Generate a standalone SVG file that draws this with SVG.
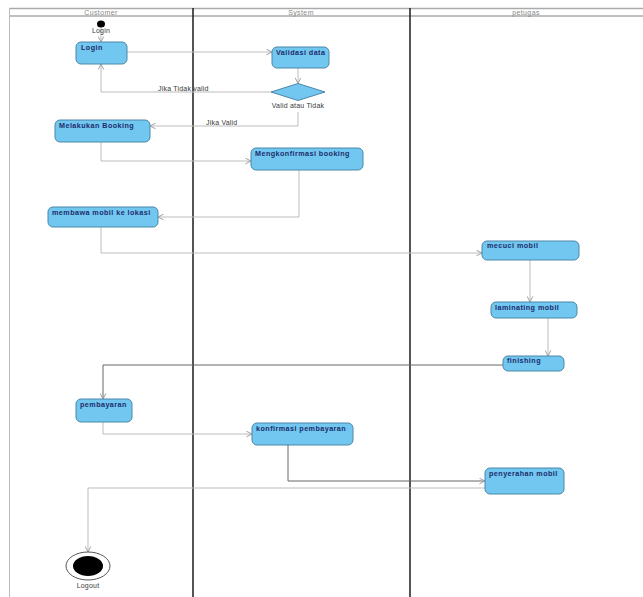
<svg xmlns="http://www.w3.org/2000/svg" width="643" height="597" viewBox="0 0 643 597">
<defs>
<style>
.lane{stroke:#aaa;stroke-width:1.5;fill:none}
.div{stroke:#2a2a2a;stroke-width:1.6}
.hdr{font-family:"Liberation Sans",Arial,sans-serif;font-size:7px;letter-spacing:0.4px;fill:#888;text-anchor:middle}
.box{fill:#72c7f1;stroke:#4b87a8;stroke-width:1}
.lbl{font-family:"Liberation Sans",Arial,sans-serif;font-size:7.2px;letter-spacing:0.45px;font-weight:bold;fill:#1c2d6b}
.small{font-family:"Liberation Sans",Arial,sans-serif;font-size:7px;letter-spacing:0.2px;fill:#3a3a3a}
.c{fill:none;stroke:#bdbdbd;stroke-width:1;marker-end:url(#arr)}
.cd{fill:none;stroke:#666;stroke-width:1;marker-end:url(#arr)}
</style>
<marker id="arr" viewBox="0 0 10 10" refX="9" refY="5" markerWidth="7" markerHeight="7" orient="auto" markerUnits="userSpaceOnUse">
<path d="M1,1 L9,5 L1,9" fill="none" stroke="#999" stroke-width="1.3"/>
</marker>
</defs>
<rect width="643" height="597" fill="#fff"/>
<g id="lanes">
<line class="lane" x1="9" y1="8.5" x2="643" y2="8.5"/>
<line class="lane" x1="9" y1="16" x2="643" y2="16"/>
<line x1="9.5" y1="8" x2="9.5" y2="597" stroke="#bbb" stroke-width="1"/>
<line class="div" x1="193" y1="8" x2="193" y2="597"/>
<line class="div" x1="410" y1="8" x2="410" y2="597"/>
<text class="hdr" x="101" y="14.5">Customer</text>
<text class="hdr" x="301" y="14.5">System</text>
<text class="hdr" x="526" y="14.5">petugas</text>
</g>
<g id="connectors">
<path class="c" d="M101,28 V42"/>
<path class="c" d="M127,52 H272"/>
<path class="c" d="M298,68 V83.5"/>
<path class="c" d="M271,92 H101 V64"/>
<path class="c" d="M298,112 V126 H150"/>
<path class="c" d="M101,142 V161 H251"/>
<path class="c" d="M299,170 V217 H158"/>
<path class="c" d="M101,227 V253 H482"/>
<path class="c" d="M530,260 V302"/>
<path class="c" d="M548,318 V356"/>
<path class="cd" d="M503,365 H103 V399"/>
<path class="c" d="M103,422 V434 H252"/>
<path class="cd" d="M288,445 V481 H485"/>
<path class="c" d="M485,488 H88 V552"/>
<text class="small" x="158" y="90.5">Jika Tidak valid</text>
<text class="small" x="206" y="124.5">Jika Valid</text>
</g>
<g id="start">
<ellipse cx="101" cy="24" rx="4" ry="3.5" fill="#000"/>
<text class="small" x="101" y="33" text-anchor="middle">Login</text>
</g>
<g id="login"><rect class="box" x="76" y="42" width="51" height="22" rx="5"/><text class="lbl" x="81" y="50">Login</text></g>
<g id="validasi"><rect class="box" x="272" y="47" width="57" height="21" rx="5"/><text class="lbl" x="276" y="55">Validasi data</text></g>
<g id="decision"><polygon class="box" points="271,92 298,83.5 325,92 298,100.5"/><text class="small" x="298" y="108" text-anchor="middle">Valid atau Tidak</text></g>
<g id="booking"><rect class="box" x="55" y="120" width="95" height="22" rx="5"/><text class="lbl" x="59" y="127.5">Melakukan Booking</text></g>
<g id="konfirmasi-booking"><rect class="box" x="251" y="148" width="112" height="22" rx="5"/><text class="lbl" x="255" y="155.5">Mengkonfirmasi booking</text></g>
<g id="membawa"><rect class="box" x="48" y="207" width="110" height="20" rx="5"/><text class="lbl" x="52" y="215">membawa mobil ke lokasi</text></g>
<g id="mecuci"><rect class="box" x="482" y="241" width="97" height="19" rx="5"/><text class="lbl" x="487" y="248">mecuci mobil</text></g>
<g id="laminating"><rect class="box" x="491" y="302" width="86" height="16" rx="5"/><text class="lbl" x="495" y="309.5">laminating mobil</text></g>
<g id="finishing"><rect class="box" x="503" y="356" width="61" height="15" rx="5"/><text class="lbl" x="507" y="363">finishing</text></g>
<g id="pembayaran"><rect class="box" x="76" y="399" width="56" height="23" rx="5"/><text class="lbl" x="80" y="406.5">pembayaran</text></g>
<g id="konfirmasi-pembayaran"><rect class="box" x="252" y="423" width="101" height="22" rx="5"/><text class="lbl" x="256" y="430.5">konfirmasi pembayaran</text></g>
<g id="penyerahan"><rect class="box" x="485" y="468" width="79" height="26" rx="5"/><text class="lbl" x="489" y="475.5">penyerahan mobil</text></g>
<g id="end">
<ellipse cx="88" cy="566" rx="22" ry="14" fill="#fff" stroke="#555" stroke-width="1"/>
<ellipse cx="88" cy="566" rx="15" ry="10" fill="#000"/>
<text class="small" x="88" y="588" text-anchor="middle">Logout</text>
</g>
</svg>
